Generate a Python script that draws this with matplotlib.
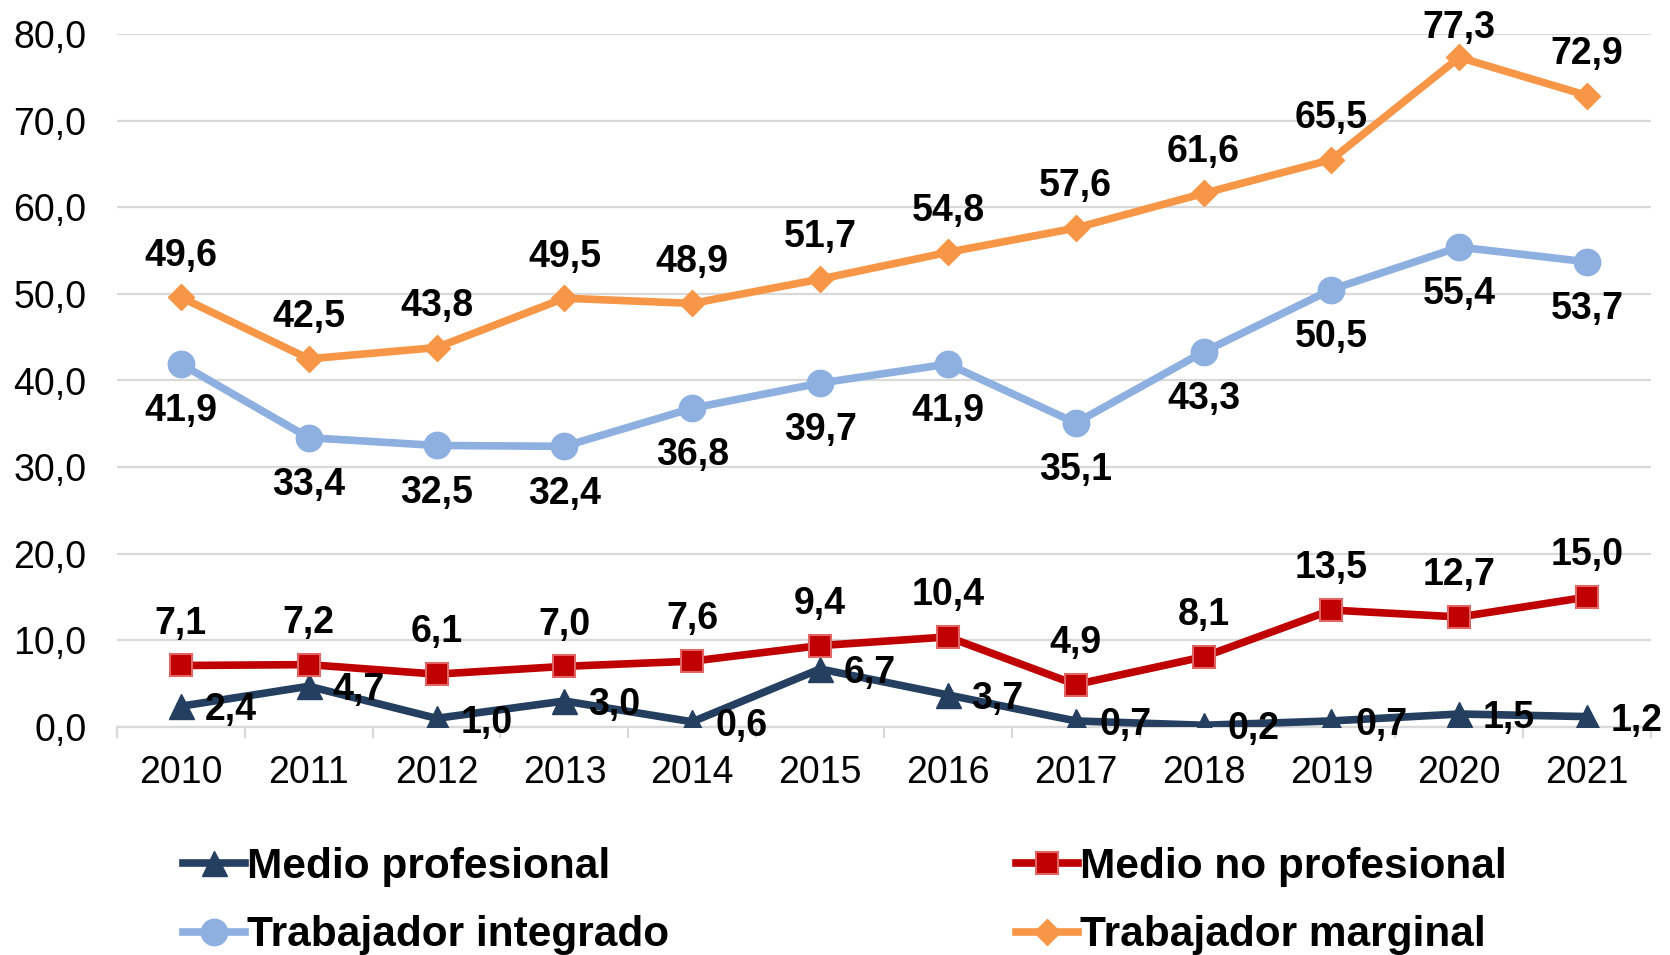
import matplotlib.pyplot as plt
from matplotlib.ticker import MultipleLocator, FixedLocator

plt.rcParams['font.family'] = ['Liberation Sans', 'DejaVu Sans']

years = ['2010', '2011', '2012', '2013', '2014', '2015',
         '2016', '2017', '2018', '2019', '2020', '2021']
medio_prof = [2.4, 4.7, 1.0, 3.0, 0.6, 6.7, 3.7, 0.7, 0.2, 0.7, 1.5, 1.2]
medio_no_prof = [7.1, 7.2, 6.1, 7.0, 7.6, 9.4, 10.4, 4.9, 8.1, 13.5, 12.7, 15.0]
trab_integrado = [41.9, 33.4, 32.5, 32.4, 36.8, 39.7, 41.9, 35.1, 43.3, 50.5, 55.4, 53.7]
trab_marginal = [49.6, 42.5, 43.8, 49.5, 48.9, 51.7, 54.8, 57.6, 61.6, 65.5, 77.3, 72.9]

fmt = lambda v: f"{v:.1f}".replace('.', ',')

fig = plt.figure(figsize=(16.7, 9.55), dpi=100)
ax = fig.add_axes([117 / 1670, 1 - 727 / 955, (1651 - 117) / 1670, (727 - 34) / 955])

x = range(len(years))
lw = 5.5

l_mp, = ax.plot(x, medio_prof, color='#243F60', lw=lw, marker='^', ms=18,
                mfc='#243F60', mec='#243F60', label='Medio profesional', zorder=3)
l_mnp, = ax.plot(x, medio_no_prof, color='#C00000', lw=lw, marker='s', ms=16,
                 mfc='#C00000', mec='#E06666', mew=1.5, label='Medio no profesional', zorder=3)
l_ti, = ax.plot(x, trab_integrado, color='#8DB0E0', lw=lw, marker='o', ms=19,
                mfc='#8DB0E0', mec='#8DB0E0', label='Trabajador integrado', zorder=3)
l_tm, = ax.plot(x, trab_marginal, color='#F79646', lw=lw, marker='D', ms=13,
                mfc='#F79646', mec='#F79646', label='Trabajador marginal', zorder=3)

lab_kw = dict(textcoords='offset points', fontsize=27, fontweight='bold', zorder=5)
for i in x:
    ax.annotate(fmt(medio_prof[i]), (i, medio_prof[i]), xytext=(17, -3),
                ha='left', va='center', **lab_kw)
    ax.annotate(fmt(medio_no_prof[i]), (i, medio_no_prof[i]), xytext=(0, 30),
                ha='center', va='center', **lab_kw)
    ax.annotate(fmt(trab_integrado[i]), (i, trab_integrado[i]), xytext=(0, -34),
                ha='center', va='center', **lab_kw)
    # label of the peak is pushed down to stay inside the chart area
    up = 21 if trab_marginal[i] > 75 else 30
    ax.annotate(fmt(trab_marginal[i]), (i, trab_marginal[i]), xytext=(0, up),
                ha='center', va='center', **lab_kw)

ax.set_xlim(-0.5, len(years) - 0.5)
ax.set_ylim(0, 80)
ax.yaxis.set_major_locator(MultipleLocator(10))
ax.set_yticklabels([fmt(v) for v in ax.get_yticks()])
ax.set_xticks(list(x))
ax.set_xticklabels(years)
ax.xaxis.set_minor_locator(FixedLocator([i - 0.5 for i in range(len(years) + 1)]))

ax.grid(axis='y', color='#D9D9D9', lw=1.6, zorder=0)
ax.set_axisbelow(True)
for s in ['top', 'right', 'left']:
    ax.spines[s].set_visible(False)
ax.spines['bottom'].set_color('#D9D9D9')
ax.spines['bottom'].set_linewidth(1.6)

ax.tick_params(axis='y', length=0, pad=22, labelsize=27)
ax.tick_params(axis='x', which='major', length=0, pad=20, labelsize=27)
ax.tick_params(axis='x', which='minor', length=8, width=1.6, color='#D9D9D9', direction='out')

fig.legend(handles=[l_mp, l_ti, l_mnp, l_tm], ncol=2, frameon=False,
           loc='center left', bbox_to_anchor=(183 / 1670, 1 - 901 / 955),
           borderpad=0, borderaxespad=0, handlelength=1.46, handletextpad=0.05,
           columnspacing=8.2, labelspacing=0.68,
           prop={'size': 30.5, 'weight': 'bold'})

fig.savefig('out.png', dpi=100)
